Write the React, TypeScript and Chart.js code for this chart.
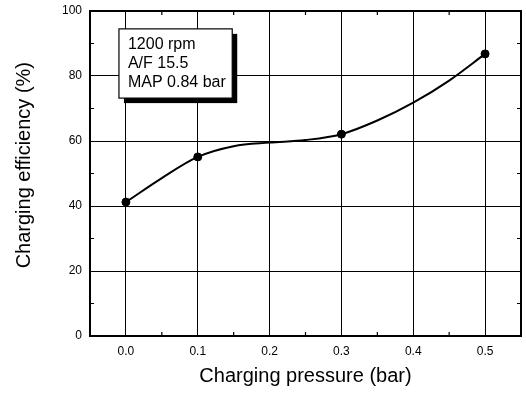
import React, { useEffect, useRef } from "react";
import { Chart, registerables } from "chart.js";

Chart.register(...registerables);

const pressureBar = [0.0, 0.1, 0.3, 0.5];
const efficiencyPct = [41.2, 55.1, 62.1, 86.8];

// fitted curve
const curvePressure = [0.0, 0.05, 0.1, 0.15, 0.2, 0.25, 0.3, 0.35, 0.4, 0.45, 0.5];
const curveEfficiency = [41.2, 48.6, 55.1, 58.4, 59.5, 60.3, 62.1, 66.3, 71.8, 78.6, 86.8];

const xTickValues = [0.0, 0.1, 0.2, 0.3, 0.4, 0.5];
const xMinorTicks = [0.05, 0.15, 0.25, 0.35, 0.45];
const yTickValues = [0, 20, 40, 60, 80, 100];
const yMinorTicks = [10, 30, 50, 70, 90];

const noteLines = ["1200 rpm", "A/F 15.5", "MAP 0.84 bar"];
// note box anchor (in data units): left, top, right, bottom
const noteBox = { x0: -0.0097, y0: 94.5, x1: 0.148, y1: 73.2 };

const FONT = "'Liberation Sans', Arial, sans-serif";

const framePlugin = {
  id: "frameAndNote",
  afterDraw(chart: any) {
    const { ctx, chartArea: a, scales } = chart;
    const xs = scales.x;
    const ys = scales.y;
    ctx.save();
    // minor ticks
    ctx.strokeStyle = "#000";
    ctx.lineWidth = 1.2;
    ctx.beginPath();
    xMinorTicks.forEach((v) => {
      const px = xs.getPixelForValue(v);
      ctx.moveTo(px, a.bottom);
      ctx.lineTo(px, a.bottom - 4);
      ctx.moveTo(px, a.top);
      ctx.lineTo(px, a.top + 4);
    });
    yMinorTicks.forEach((v) => {
      const py = ys.getPixelForValue(v);
      ctx.moveTo(a.left, py);
      ctx.lineTo(a.left + 4, py);
      ctx.moveTo(a.right, py);
      ctx.lineTo(a.right - 4, py);
    });
    ctx.stroke();
    // frame
    ctx.lineWidth = 2;
    ctx.strokeRect(a.left, a.top, a.right - a.left, a.bottom - a.top);
    // note box
    const l = xs.getPixelForValue(noteBox.x0);
    const r = xs.getPixelForValue(noteBox.x1);
    const t = ys.getPixelForValue(noteBox.y0);
    const b = ys.getPixelForValue(noteBox.y1);
    ctx.fillStyle = "#000";
    ctx.fillRect(l + 5, t + 5, r - l, b - t);
    ctx.fillStyle = "#fff";
    ctx.fillRect(l, t, r - l, b - t);
    ctx.lineWidth = 1.2;
    ctx.strokeRect(l, t, r - l, b - t);
    ctx.fillStyle = "#000";
    ctx.font = `16px ${FONT}`;
    ctx.textBaseline = "middle";
    ctx.textAlign = "left";
    noteLines.forEach((s, i) => {
      ctx.fillText(s, l + 9, t + 16 + i * 19);
    });
    ctx.restore();
  },
};

export default function App() {
  const ref = useRef<HTMLCanvasElement | null>(null);
  useEffect(() => {
    if (!ref.current) return;
    const chart = new Chart(ref.current, {
      type: "scatter",
      data: {
        datasets: [
          {
            label: "curve",
            data: curvePressure.map((x, i) => ({ x, y: curveEfficiency[i] })),
            showLine: true,
            borderColor: "#000",
            borderWidth: 2,
            pointRadius: 0,
            cubicInterpolationMode: "monotone",
          },
          {
            label: "measured",
            data: pressureBar.map((x, i) => ({ x, y: efficiencyPct[i] })),
            showLine: false,
            pointRadius: 4,
            pointBackgroundColor: "#000",
            pointBorderColor: "#000",
          },
        ],
      },
      options: {
        animation: false,
        responsive: false,
        layout: { padding: { left: 0, top: 11, right: 4, bottom: 0 } },
        plugins: { legend: { display: false }, tooltip: { enabled: false } },
        scales: {
          x: {
            type: "linear",
            min: -0.05,
            max: 0.55,
            afterBuildTicks: (s: any) => {
              s.ticks = xTickValues.map((v) => ({ value: v }));
            },
            afterFit: (s: any) => {
              s.height = 58;
              s.paddingLeft = 0;
              s.paddingRight = 0;
            },
            grid: { color: "#000", lineWidth: 1, drawTicks: false },
            border: { color: "#000", width: 2 },
            ticks: {
              color: "#000",
              padding: 8,
              font: { family: FONT, size: 12 },
              callback: (v: any) => Number(v).toFixed(1),
            },
            title: {
              display: true,
              text: "Charging pressure (bar)",
              color: "#000",
              font: { family: FONT, size: 20 },
              padding: { top: 0, bottom: 6 },
            },
          },
          y: {
            type: "linear",
            min: 0,
            max: 100,
            afterBuildTicks: (s: any) => {
              s.ticks = yTickValues.map((v) => ({ value: v }));
            },
            afterFit: (s: any) => {
              s.width = 90;
              s.paddingTop = 0;
              s.paddingBottom = 0;
            },
            grid: { color: "#000", lineWidth: 1, drawTicks: false },
            border: { color: "#000", width: 2 },
            ticks: {
              color: "#000",
              padding: 8,
              font: { family: FONT, size: 12 },
            },
            title: {
              display: true,
              text: "   Charging efficiency (%)",
              color: "#000",
              font: { family: FONT, size: 20 },
              padding: { top: 12, bottom: 0 },
            },
          },
        },
      },
      plugins: [framePlugin],
    } as any);
    return () => chart.destroy();
  }, []);
  return (
    <div style={{ position: "fixed", left: 0, top: 0, width: 526, height: 394, background: "#fff" }}>
      <canvas ref={ref} width={526} height={394} style={{ width: 526, height: 394, display: "block" }} />
    </div>
  );
}
